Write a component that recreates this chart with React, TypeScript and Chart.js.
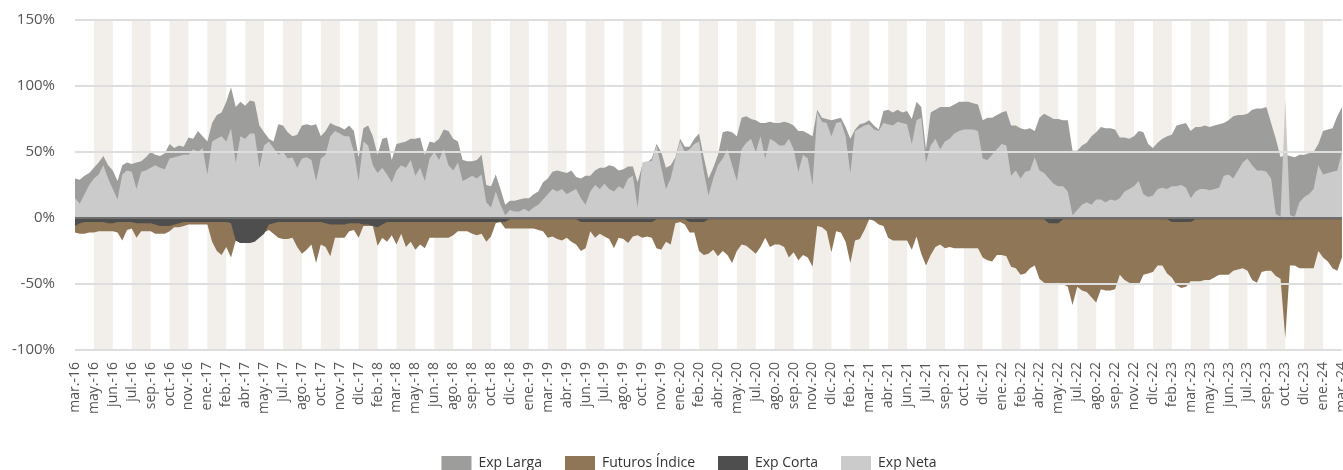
import React, { useEffect, useRef } from 'react';
import { Chart, registerables } from 'chart.js';

Chart.register(...registerables);

const FONT = "'Open Sans', 'Noto Sans', sans-serif";

// Month labels shown on the category axis (one every POINTS_PER_TICK points)
const TICK_LABELS = [
  'mar.-16', 'may.-16', 'jun.-16', 'jul.-16', 'sep.-16', 'oct.-16', 'nov.-16', 'ene.-17', 'feb.-17', 'abr.-17',
  'may.-17', 'jul.-17', 'ago.-17', 'oct.-17', 'nov.-17', 'dic.-17', 'feb.-18', 'mar.-18', 'may.-18', 'jun.-18',
  'ago.-18', 'sep.-18', 'oct.-18', 'dic.-18', 'ene.-19', 'mar.-19', 'abr.-19', 'jun.-19', 'jul.-19', 'ago.-19',
  'oct.-19', 'nov.-19', 'ene.-20', 'feb.-20', 'abr.-20', 'may.-20', 'jul.-20', 'ago.-20', 'sep.-20', 'nov.-20',
  'dic.-20', 'feb.-21', 'mar.-21', 'abr.-21', 'jun.-21', 'jul.-21', 'sep.-21', 'oct.-21', 'dic.-21', 'ene.-22',
  'feb.-22', 'abr.-22', 'may.-22', 'jul.-22', 'ago.-22', 'sep.-22', 'nov.-22', 'dic.-22', 'feb.-23', 'mar.-23',
  'may.-23', 'jun.-23', 'jul.-23', 'sep.-23', 'oct.-23', 'dic.-23', 'ene.-24', 'mar.-24',
];
const POINTS_PER_TICK = 4;

const Y_TICKS = [-100, -50, 0, 50, 100, 150];

// Series values (%)
const EXP_LARGA = [
  30, 29, 32, 34, 38, 42, 47, 40, 36, 28,
  40, 42, 41, 42, 43, 46, 50, 48, 47, 49,
  56, 53, 55, 54, 61, 60, 66, 62, 58, 72,
  78, 80, 88, 99, 84, 88, 85, 89, 88, 70,
  65, 60, 58, 71, 70, 65, 62, 63, 70, 71,
  70, 71, 62, 66, 72, 70, 69, 67, 70, 66,
  46, 68, 70, 62, 48, 60, 61, 44, 56, 57,
  58, 60, 60, 61, 48, 58, 57, 60, 67, 66,
  60, 58, 44, 43, 43, 44, 48, 25, 24, 33,
  22, 10, 13, 13, 14, 15, 15, 18, 20, 27,
  30, 35, 36, 35, 34, 36, 31, 30, 32, 32,
  36, 38, 38, 40, 39, 36, 37, 39, 39, 27,
  40, 42, 45, 56, 50, 38, 40, 46, 60, 54,
  54, 60, 64, 46, 30, 38, 48, 65, 66, 65,
  62, 76, 77, 75, 74, 72, 72, 73, 72, 72,
  73, 72, 70, 66, 66, 64, 62, 82, 76, 75,
  74, 75, 76, 69, 60, 67, 71, 72, 74, 70,
  67, 81, 82, 80, 82, 80, 81, 75, 88, 84,
  52, 80, 82, 84, 84, 84, 86, 88, 88, 88,
  87, 86, 74, 76, 76, 78, 80, 81, 70, 70,
  68, 67, 68, 66, 76, 79, 77, 75, 75, 74,
  74, 51, 51, 55, 57, 62, 65, 69, 68, 68,
  67, 61, 61, 60, 62, 66, 65, 56, 53, 57,
  60, 62, 63, 70, 71, 72, 66, 69, 69, 70,
  69, 70, 71, 72, 74, 77, 78, 78, 79, 82,
  83, 83, 84, 72, 60, 46, 48, 47, 46, 48,
  48, 49, 50, 56, 66, 67, 68, 77, 84,
];

const FUTUROS_INDICE = [
  -11, -12, -12, -11, -11, -10, -10, -10, -10, -11,
  -17, -9, -8, -15, -10, -10, -10, -12, -12, -12,
  -10, -7, -7, -6, -5, -5, -5, -5, -5, -18,
  -25, -28, -22, -30, -17, -19, -19, -18, -17, -14,
  -11, -9, -12, -15, -16, -16, -15, -22, -27, -24,
  -20, -34, -20, -22, -29, -15, -15, -15, -10, -9,
  -15, -6, -6, -6, -21, -15, -18, -13, -20, -12,
  -22, -18, -24, -20, -23, -15, -15, -15, -15, -15,
  -13, -10, -10, -10, -12, -13, -12, -18, -14, -4,
  -3, -8, -8, -8, -8, -8, -8, -8, -9, -10,
  -15, -14, -16, -17, -15, -18, -20, -25, -23, -10,
  -15, -12, -14, -16, -23, -15, -16, -19, -14, -13,
  -15, -14, -15, -23, -24, -18, -20, -4, -3, -5,
  -11, -11, -25, -28, -27, -24, -29, -25, -28, -34,
  -25, -20, -21, -24, -27, -22, -15, -22, -20, -20,
  -22, -30, -26, -32, -28, -30, -37, -6, -7, -10,
  -26, -10, -11, -18, -34, -17, -16, -9, -1, -2,
  -5, -6, -15, -17, -17, -17, -17, -24, -14, -27,
  -36, -28, -22, -20, -23, -22, -23, -23, -23, -23,
  -23, -23, -30, -32, -33, -28, -28, -29, -37, -38,
  -43, -42, -38, -36, -46, -49, -50, -50, -49, -50,
  -52, -66, -52, -55, -56, -60, -64, -54, -55, -55,
  -54, -43, -47, -49, -50, -51, -43, -42, -41, -36,
  -36, -42, -45, -51, -53, -52, -48, -48, -48, -47,
  -47, -45, -43, -43, -43, -40, -39, -38, -40, -47,
  -49, -41, -40, -40, -44, -46, -91, -36, -36, -38,
  -38, -38, -38, -25, -30, -33, -38, -40, -30,
];

const EXP_CORTA = [
  -6, -4, -3, -3, -3, -3, -3, -4, -4, -3,
  -3, -3, -3, -4, -4, -4, -4, -5, -6, -6,
  -6, -5, -4, -3, -3, -3, -3, -3, -3, -3,
  -3, -3, -3, -4, -17, -19, -19, -19, -18, -15,
  -12, -5, -4, -3, -3, -3, -3, -3, -3, -3,
  -3, -3, -3, -4, -5, -5, -5, -5, -4, -4,
  -4, -5, -5, -6, -7, -5, -3, -3, -3, -3,
  -3, -3, -3, -3, -3, -3, -3, -3, -3, -3,
  -3, -3, -3, -3, -3, -3, -3, -3, -3, -3,
  -3, -3, -1, -1, -1, -1, -1, -1, -1, -1,
  -1, -1, -1, -1, -1, -1, -1, -3, -3, -3,
  -3, -3, -3, -3, -3, -3, -3, -3, -3, -3,
  -3, -3, -3, -1, -1, -1, -1, -1, -1, -1,
  -3, -3, -3, -3, -1, -1, -1, -1, -1, -1,
  -1, -1, -1, -1, -1, -1, -1, -1, -1, -1,
  -1, -1, -1, -1, -1, -1, -1, -1, -1, -1,
  -1, -1, -1, -1, -1, -1, -1, -1, -1, -1,
  -1, -1, -1, -1, -1, -1, -1, -1, -1, -1,
  -1, -1, -1, -1, -1, -1, -1, -1, -1, -1,
  -1, -1, -1, -1, -1, -1, -1, -1, -1, -1,
  -1, -1, -1, -1, -1, -1, -4, -4, -4, -1,
  -1, -1, -1, -1, -1, -1, -1, -1, -1, -1,
  -1, -1, -1, -1, -1, -1, -1, -1, -1, -1,
  -1, -1, -3, -3, -3, -3, -3, -1, -1, -1,
  -1, -1, -1, -1, -1, -1, -1, -1, -1, -1,
  -1, -1, -1, -1, -1, -1, -1, -1, -1, -1,
  -1, -1, -1, -1, -1, -1, -1, -1, -1,
];

const EXP_NETA = [
  15, 11, 18, 25, 30, 33, 40, 30, 22, 14,
  33, 36, 35, 22, 35, 36, 38, 40, 38, 37,
  45, 46, 47, 48, 48, 52, 50, 53, 33, 58,
  60, 62, 58, 68, 42, 62, 60, 64, 64, 38,
  55, 58, 53, 48, 50, 45, 46, 38, 45, 46,
  44, 28, 45, 48, 62, 66, 64, 62, 62, 50,
  28, 58, 55, 40, 34, 38, 33, 27, 36, 40,
  38, 44, 32, 38, 28, 45, 50, 44, 52, 40,
  36, 42, 28, 30, 32, 30, 33, 12, 8, 20,
  10, 2, 6, 5, 5, 7, 5, 8, 10, 14,
  18, 22, 20, 22, 18, 20, 22, 15, 10, 20,
  25, 22, 26, 22, 20, 24, 22, 30, 32, 8,
  42, 43, 43, 55, 38, 22, 30, 45, 58, 50,
  52, 56, 58, 35, 17, 30, 40, 45, 52, 40,
  28, 52, 57, 60, 50, 62, 45, 60, 58, 55,
  55, 60, 52, 35, 48, 45, 25, 80, 73, 72,
  62, 72, 73, 62, 34, 66, 68, 70, 71, 67,
  66, 72, 71, 70, 73, 72, 71, 56, 74, 76,
  42, 55, 60, 52, 58, 60, 64, 66, 67, 67,
  67, 66, 45, 44, 48, 52, 56, 55, 32, 36,
  30, 35, 36, 46, 36, 34, 30, 26, 24, 24,
  20, 2, 6, 10, 12, 10, 14, 14, 12, 14,
  13, 15, 20, 22, 24, 28, 18, 16, 17, 22,
  23, 22, 24, 24, 25, 23, 15, 20, 22, 22,
  21, 22, 23, 32, 33, 30, 36, 42, 45, 40,
  36, 36, 35, 30, 3, 1, 90, 2, 1, 12,
  16, 18, 22, 40, 33, 34, 35, 36, 50,
];

const SERIES_NAMES = ['Exp Larga', 'Futuros Índice', 'Exp Corta', 'Exp Neta'];
const SERIES_COLORS = ['#9d9d9c', '#8f7657', '#4e4e4e', '#cbcbcb'];
const SERIES_DRAW_ORDER = [2, 3, 1, 0]; // lower = drawn on top

const BAND_COLOR = '#f2efea';
const GRID_COLOR = '#dedede';
const ZERO_COLOR = '#6e6e6e';
const LEGEND_SHIFT = 18;

const CATEGORIES = EXP_LARGA.map((_, i) =>
  i % POINTS_PER_TICK === 0 ? TICK_LABELS[i / POINTS_PER_TICK] : ''
);

const bandsPlugin = {
  id: 'bands',
  beforeDatasetsDraw(chart: any) {
    const { ctx, chartArea, scales } = chart;
    const x = scales.x;
    ctx.save();
    ctx.fillStyle = BAND_COLOR;
    for (let k = 1; k + 1 < TICK_LABELS.length; k += 2) {
      const x0 = x.getPixelForValue(k * POINTS_PER_TICK);
      const x1 = x.getPixelForValue((k + 1) * POINTS_PER_TICK);
      ctx.fillRect(x0, chartArea.top, x1 - x0, chartArea.bottom - chartArea.top);
    }
    ctx.restore();
  },
};

const legendShiftPlugin = {
  id: 'legendShift',
  afterLayout(chart: any) {
    const lg = chart.legend;
    if (lg) {
      lg.left += LEGEND_SHIFT;
      lg.right += LEGEND_SHIFT;
    }
  },
};

export default function App() {
  const ref = useRef<HTMLCanvasElement>(null);

  useEffect(() => {
    const canvas = ref.current;
    if (!canvas) return;
    const seriesData = [EXP_LARGA, FUTUROS_INDICE, EXP_CORTA, EXP_NETA];
    const chart = new Chart(canvas, {
      type: 'line',
      data: {
        labels: CATEGORIES,
        datasets: seriesData.map((d, i) => ({
          label: SERIES_NAMES[i],
          data: d,
          backgroundColor: SERIES_COLORS[i],
          borderColor: SERIES_COLORS[i],
          borderWidth: 0,
          pointRadius: 0,
          pointHoverRadius: 0,
          tension: 0,
          fill: 'origin',
          order: SERIES_DRAW_ORDER[i],
        })),
      },
      options: {
        responsive: false,
        animation: false,
        devicePixelRatio: 1,
        layout: { padding: { top: 20, right: 1, left: 0, bottom: 0 } },
        scales: {
          x: {
            type: 'category',
            grid: { display: true, color: 'rgba(0,0,0,0)', drawTicks: true, tickLength: 8 },
            border: { display: false },
            ticks: {
              autoSkip: false,
              maxRotation: 90,
              minRotation: 90,
              padding: 4,
              color: '#555555',
              font: { family: FONT, size: 14 },
            },
            afterFit: (s: any) => {
              s.height = 83;
              s.paddingRight = 0;
              s.paddingLeft = 0;
            },
          },
          y: {
            min: Y_TICKS[0],
            max: Y_TICKS[Y_TICKS.length - 1],
            z: 1,
            grid: {
              color: (c: any) => (c.tick && c.tick.value === 0 ? ZERO_COLOR : GRID_COLOR),
              lineWidth: 2,
              drawTicks: false,
              z: 1,
            },
            border: { display: false },
            ticks: {
              stepSize: 50,
              padding: 20,
              color: '#555555',
              font: { family: FONT, size: 15 },
              callback: (v: any) => v + '%',
            },
            afterFit: (s: any) => {
              s.width = 75;
              s.paddingTop = 0;
              s.paddingBottom = 0;
            },
          },
        },
        plugins: {
          legend: {
            position: 'bottom',
            labels: {
              boxWidth: 30,
              boxHeight: 14,
              padding: 23,
              color: '#333333',
              font: { family: FONT, size: 14 },
              sort: (a: any, b: any) => a.datasetIndex - b.datasetIndex,
            },
          },
          tooltip: { enabled: false },
        },
      },
      plugins: [bandsPlugin, legendShiftPlugin],
    } as any);
    return () => chart.destroy();
  }, []);

  return (
    <div
      style={{
        position: 'absolute',
        left: 0,
        top: 0,
        width: 1343,
        height: 470,
        overflow: 'hidden',
        background: '#ffffff',
      }}
    >
      <canvas ref={ref} width={1343} height={480} style={{ display: 'block', width: 1343, height: 480 }} />
    </div>
  );
}
